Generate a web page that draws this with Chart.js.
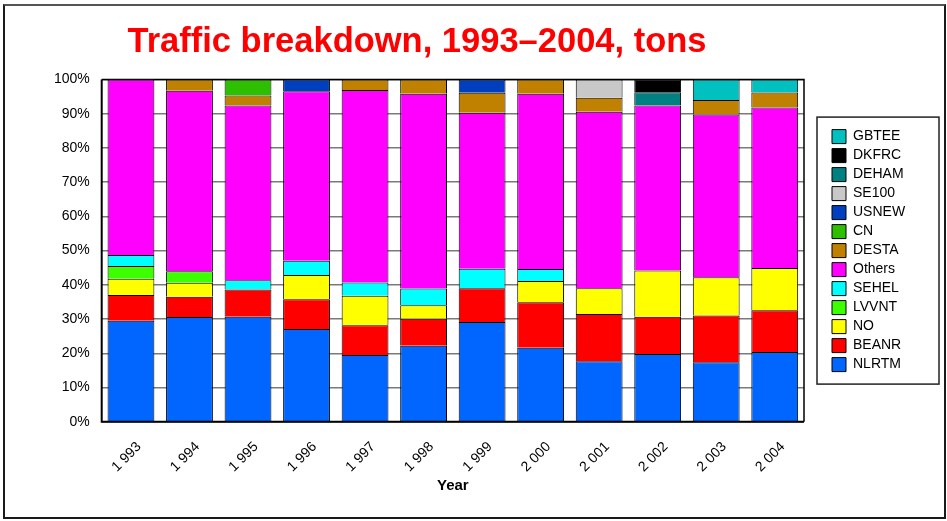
<!DOCTYPE html>
<html>
<head>
<meta charset="utf-8">
<title>Traffic breakdown, 1993–2004, tons</title>
<script src="https://cdn.jsdelivr.net/npm/chart.js@4.4.1/dist/chart.umd.min.js"></script>
<style>
  html, body { margin: 0; padding: 0; background: #fff; }
  #wrap { position: relative; width: 947px; height: 521px; overflow: hidden; }
  #c { position: absolute; left: 0; top: 0; }
  #frame {
    position: absolute; left: 3px; top: 4px; width: 939px; height: 511px;
    border: 2px solid #1a1a1a; border-top-color: #555; pointer-events: none;
  }
</style>
</head>
<body>
<div id="wrap">
  <canvas id="c" width="947" height="521"></canvas>
  <div id="frame"></div>
</div>
<script>
// Share of total tonnage per port, percent of each year's traffic
const yearLabels = ['1 993', '1 994', '1 995', '1 996', '1 997', '1 998',
                    '1 999', '2 000', '2 001', '2 002', '2 003', '2 004'];

const NLRTM  = [29.5, 30.6, 30.7, 27.1, 19.5, 22.2, 29.1, 21.6, 17.7, 19.8, 17.4, 20.4];
const BEANR  = [ 7.5,  5.9,  7.9,  8.7,  8.7,  7.9,  9.9, 13.3, 13.8, 10.9, 13.6, 12.2];
const NO     = [ 4.8,  4.1, null,  7.1,  8.6,  3.9, null,  6.2,  7.5, 13.5, 11.2, 12.3];
const LVVNT  = [ 3.7,  3.4, null, null, null, null, null, null, null, null, null, null];
const SEHEL  = [ 3.2, null,  2.7,  4.1,  3.9,  4.9,  5.7,  3.5, null, null, null, null];
const Others = [51.3, 52.7, 51.1, 49.6, 56.2, 56.9, 45.6, 51.2, 51.6, 48.2, 47.6, 46.9];
const DESTA  = [null,  3.3,  2.9, null,  3.1,  4.2,  5.8,  4.2,  4.1, null,  4.2,  4.4];
const CN     = [null, null,  4.7, null, null, null, null, null, null, null, null, null];
const USNEW  = [null, null, null,  3.4, null, null,  3.9, null, null, null, null, null];
const SE100  = [null, null, null, null, null, null, null, null,  5.3, null, null, null];
const DEHAM  = [null, null, null, null, null, null, null, null, null,  3.9, null, null];
const DKFRC  = [null, null, null, null, null, null, null, null, null,  3.7, null, null];
const GBTEE  = [null, null, null, null, null, null, null, null, null, null,  6.0,  3.8];

const yTickValues = [0, 10, 20, 30, 40, 50, 60, 70, 80, 90, 100];

// Stack order, bottom to top
const series = [
  { name: 'NLRTM',  data: NLRTM,  color: '#0066FF' },
  { name: 'BEANR',  data: BEANR,  color: '#FF0000' },
  { name: 'NO',     data: NO,     color: '#FFFF00' },
  { name: 'LVVNT',  data: LVVNT,  color: '#3CFF00' },
  { name: 'SEHEL',  data: SEHEL,  color: '#00FFFF' },
  { name: 'Others', data: Others, color: '#FF00FF' },
  { name: 'DESTA',  data: DESTA,  color: '#C08000' },
  { name: 'CN',     data: CN,     color: '#2EBF00' },
  { name: 'USNEW',  data: USNEW,  color: '#0040C0' },
  { name: 'SE100',  data: SE100,  color: '#C8C8C8' },
  { name: 'DEHAM',  data: DEHAM,  color: '#008080' },
  { name: 'DKFRC',  data: DKFRC,  color: '#000000' },
  { name: 'GBTEE',  data: GBTEE,  color: '#00C0C0' }
];

const FONT = '"Liberation Sans", Arial, Helvetica, sans-serif';
Chart.defaults.font.family = FONT;
Chart.defaults.color = '#000';

// Red heading above the plot
const headingPlugin = {
  id: 'heading',
  afterDraw(chart) {
    const ctx = chart.ctx;
    ctx.save();
    ctx.font = 'bold 34.5px ' + FONT;
    ctx.fillStyle = '#FF0000';
    ctx.textAlign = 'center';
    ctx.textBaseline = 'alphabetic';
    ctx.fillText('Traffic breakdown, 1993–2004, tons', 417, 52);
    ctx.restore();
  }
};

// Plot frame and the box around the legend
const framePlugin = {
  id: 'frames',
  afterDatasetsDraw(chart) {
    const { ctx, chartArea: a } = chart;
    ctx.save();
    ctx.strokeStyle = '#000';
    ctx.lineWidth = 1.5;
    ctx.beginPath();
    ctx.moveTo(a.left, a.top);
    ctx.lineTo(a.right, a.top);
    ctx.lineTo(a.right, a.bottom);
    ctx.stroke();
    ctx.lineWidth = 2;
    ctx.beginPath();
    ctx.moveTo(a.left, a.top);
    ctx.lineTo(a.left, a.bottom);
    ctx.lineTo(a.right, a.bottom);
    ctx.stroke();
    ctx.restore();
  },
  afterDraw(chart) {
    const { ctx, chartArea: a, legend } = chart;
    const cy = (a.top + a.bottom) / 2;
    ctx.save();
    ctx.strokeStyle = '#222';
    ctx.lineWidth = 1.5;
    ctx.strokeRect(legend.left - 10, cy - 133.5, 122, 267);
    ctx.restore();
  }
};

new Chart(document.getElementById('c'), {
  type: 'bar',
  data: {
    labels: yearLabels,
    datasets: series.map(s => ({
      label: s.name,
      data: s.data,
      backgroundColor: s.color,
      borderColor: '#000',
      borderWidth: 1,
      yAxisID: 'y',
      barPercentage: 0.8,
      categoryPercentage: 1.0
    }))
  },
  options: {
    responsive: false,
    animation: false,
    devicePixelRatio: 1,
    layout: { padding: { left: 40, right: 40, top: 79.5, bottom: 19.3 } },
    plugins: {
      title: { display: false },
      tooltip: { enabled: false },
      legend: {
        position: 'right',
        fullSize: false,
        reverse: true,
        maxWidth: 80,
        labels: {
          boxWidth: 14,
          boxHeight: 14,
          padding: 5,
          color: '#000',
          font: { size: 14, family: FONT }
        }
      }
    },
    scales: {
      y: {
        stacked: true,
        min: 0,
        max: 100,
        afterBuildTicks(scale) { scale.ticks = yTickValues.map(v => ({ value: v })); },
        ticks: {
          padding: 12,
          color: '#000',
          font: { size: 14, family: FONT },
          callback: v => v + '%'
        },
        grid: { color: '#7a7a7a', lineWidth: 1.5, drawTicks: false },
        border: { display: false },
        afterFit(scale) { scale.width = 61.7; }
      },
      yGap: {
        type: 'linear',
        position: 'right',
        display: true,
        grid: { display: false, drawTicks: false },
        ticks: { display: false },
        border: { display: false },
        afterFit(scale) { scale.width = 23; }
      },
      x: {
        stacked: true,
        grid: { display: false, drawTicks: false },
        border: { display: false },
        ticks: {
          autoSkip: false,
          minRotation: 45,
          maxRotation: 45,
          padding: 17,
          labelOffset: 8,
          color: '#000',
          font: { size: 14, family: FONT }
        },
        title: {
          display: true,
          text: 'Year',
          color: '#000',
          font: { size: 15, weight: 'bold', family: FONT },
          padding: { top: 0, bottom: 7 }
        },
        afterFit(scale) { scale.height = 80; }
      }
    }
  },
  plugins: [framePlugin, headingPlugin]
});
</script>
</body>
</html>
